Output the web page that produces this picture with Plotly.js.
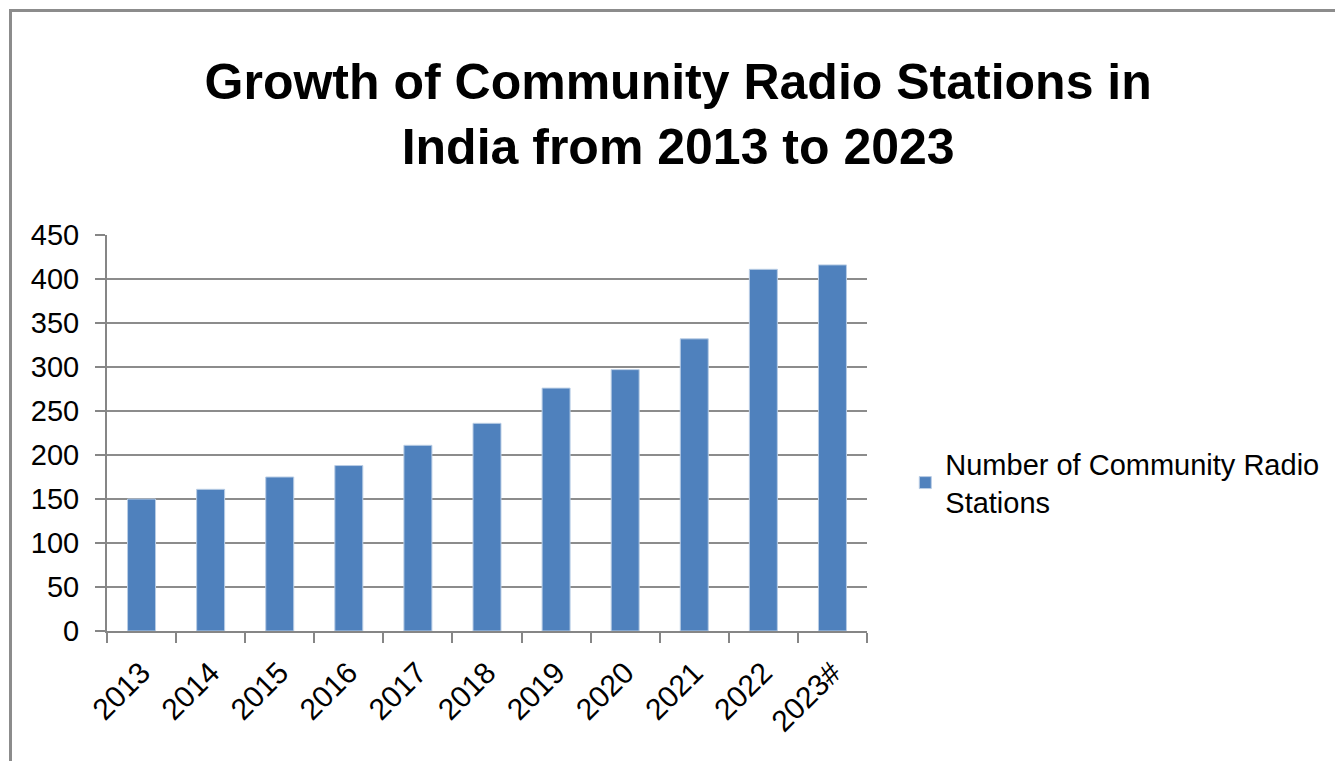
<!DOCTYPE html>
<html>
<head>
<meta charset="utf-8">
<script src="https://cdn.plot.ly/plotly-3.0.1.min.js"></script>
<style>
  html, body { margin: 0; padding: 0; background: #fff; }
  #wrap { position: relative; width: 1335px; height: 761px; overflow: hidden; }
  #chart { width: 1335px; height: 761px; }
  #frame { position: absolute; left: 9px; top: 9px; width: 1340px; height: 770px;
           border-left: 3px solid #8c8c8c; border-top: 3px solid #8c8c8c; pointer-events: none; }
</style>
</head>
<body>
<div id="wrap">
  <div id="chart"></div>
  <div id="frame"></div>
</div>
<script>
const years = ["2013", "2014", "2015", "2016", "2017", "2018", "2019", "2020", "2021", "2022", "2023#"];
const stations = [150, 161, 175, 188, 211, 236, 276, 297, 332, 411, 416];
const seriesName = "Number of Community Radio<br>Stations";
const chartTitle = "Growth of Community Radio Stations in<br>India from 2013 to 2023";
const yTicks = [0, 50, 100, 150, 200, 250, 300, 350, 400, 450];

const trace = {
  type: "bar",
  x: years,
  y: stations,
  name: seriesName,
  marker: { color: "#4f81bd", line: { color: "#b9cde5", width: 1 } },
  hoverinfo: "x+y",
  showlegend: true
};

const layout = {
  width: 1335,
  height: 761,
  margin: { l: 107, r: 467, t: 235, b: 130 },
  paper_bgcolor: "#ffffff",
  plot_bgcolor: "#ffffff",
  font: { family: "Liberation Sans, Arial, sans-serif", color: "#000000" },
  title: {
    text: chartTitle,
    font: { family: "Liberation Sans, Arial, sans-serif", size: 50, color: "#000", weight: "bold" },
    xref: "container", x: 0.508, xanchor: "center",
    yref: "container", y: 0.87, yanchor: "middle"
  },
  bargap: 0.595,
  xaxis: {
    type: "category",
    showline: true, linecolor: "#868686", linewidth: 2,
    ticks: "outside", tickson: "boundaries", ticklen: 10, tickcolor: "#868686", tickwidth: 2,
    tickangle: -45,
    tickfont: { size: 30, family: "Liberation Sans, Arial, sans-serif" },
    ticklabelstandoff: 10,
    showgrid: false,
    zeroline: false
  },
  yaxis: {
    range: [0, 450],
    tickvals: yTicks,
    showline: true, linecolor: "#868686", linewidth: 2,
    ticks: "outside", ticklen: 10, tickcolor: "#868686", tickwidth: 2,
    tickfont: { size: 29, family: "Liberation Sans, Arial, sans-serif" },
    ticklabelstandoff: 10,
    showgrid: true, gridcolor: "#8c8c8c", gridwidth: 1.5,
    zeroline: false
  },
  legend: {
    x: 1.049, xanchor: "left",
    y: 0.374, yanchor: "middle",
    font: { size: 29, family: "Liberation Sans, Arial, sans-serif", color: "#000" },
    bgcolor: "rgba(0,0,0,0)"
  }
};

Plotly.newPlot("chart", [trace], layout, { displayModeBar: false, staticPlot: true });
</script>
</body>
</html>
